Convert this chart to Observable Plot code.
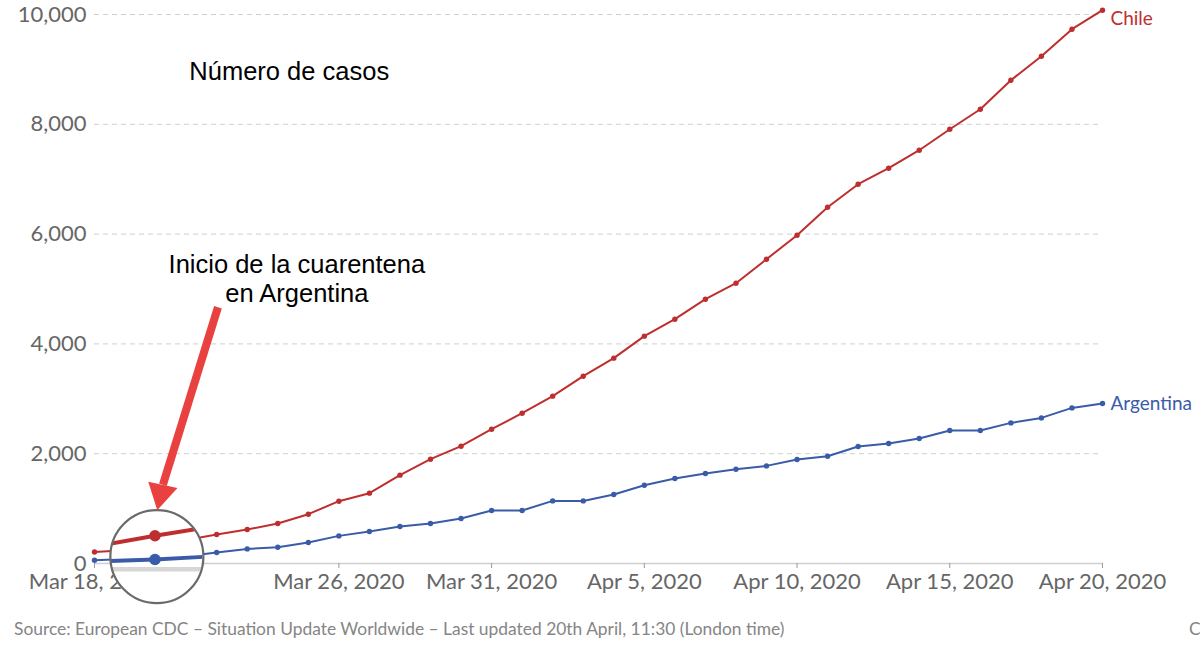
<!DOCTYPE html>
<html><head><meta charset="utf-8">
<script src="https://cdn.jsdelivr.net/npm/d3@7"></script>
<script src="https://cdn.jsdelivr.net/npm/@observablehq/plot@0.6"></script>
<style>
body{margin:0;background:#fff;overflow:hidden;}
#wrap{position:relative;width:1200px;height:654px;overflow:hidden;background:#fff;}
#caption{position:absolute;left:14px;top:618px;font:17.4px Lato;color:#858585;white-space:nowrap;}
#cc{position:absolute;left:1189px;top:618px;font:17.4px Lato;color:#858585;white-space:nowrap;}
</style></head><body>
<div id="wrap"><div id="chart"></div>
<div id="caption">Source: European CDC – Situation Update Worldwide – Last updated 20th April, 11:30 (London time)</div>
<div id="cc">CC BY</div></div>
<script>
// ---- data ----
const fechaInicio = "2020-03-18", fechaFin = "2020-04-20";
const chile = [210,240,340,430,528,619,728,898,1135,1281,1609,1900,2137,2446,
  2738,3048,3412,3740,4141,4450,4814,5106,5543,5980,6490,6909,7200,7528,7910,8274,8803,9240,9732,10078];
const argentina = [60,80,100,130,200,266,295,383,503,583,674,729,820,965,
  965,1140,1140,1257,1426,1548,1640,1718,1778,1894,1954,2131,2186,2277,2423,2423,2561,2652,2834,2914];
const paises = ["Chile","Argentina"];
const colores = ["#bf2e2e","#3a5ba8"];
const ticksY = [0,2000,4000,6000,8000,10000];
const ticksX = ["2020-03-18","2020-03-26","2020-03-31","2020-04-05","2020-04-10","2020-04-15","2020-04-20"];
// annotations (data space)
const titulo = [{fecha:"2020-03-24T09:00Z", valor:8950, texto:"Número de casos"}];
const nota = [{fecha:"2020-03-24T15:00Z", valor:5205, texto:"Inicio de la cuarentena\nen Argentina"}];
const flecha = [{f1:"2020-03-22T01:00Z", v1:4668, f2:"2020-03-20T05:45Z", v2:1435}];
const punta = [{fecha:"2020-03-20T04:15Z", valor:1279}];
const lupa = [{fecha:"2020-03-20T01:00Z", valor:124}];
const lupaRadio = 46.5, lupaZoom = 1.8;

// ---- build ----
const fechas = d3.utcDay.range(new Date(fechaInicio), d3.utcDay.offset(new Date(fechaFin), 1));
const series = [chile, argentina];
const datos = paises.map((p, i) => fechas.map((d, j) => ({pais: p, fecha: d, valor: series[i][j]})));
const parse = s => new Date(s);
const conv = arr => arr.map(o => Object.fromEntries(Object.entries(o).map(([k,v]) => [k, (k[0]==="f") ? parse(v) : v])));

const serieMarks = (r = 2.7, sw = 2) => datos.flatMap((d, i) => [
  Plot.line(d, {x:"fecha", y:"valor", stroke:colores[i], strokeWidth:sw}),
  Plot.dot(d, {x:"fecha", y:"valor", fill:colores[i], r})
]);

const base = {
  width:1200, height:610, marginTop:14, marginBottom:47, marginLeft:94, marginRight:98,
  style:{fontFamily:"Lato", fontSize:"22px", background:"transparent", overflow:"visible"},
  x:{type:"utc", domain:[new Date(fechaInicio), new Date(fechaFin)]},
  y:{domain:[0,10000]}
};
const fontAnot = "Liberation Sans, Arial, Helvetica";
const chart = Plot.plot({
  ...base,
  marks:[
    Plot.gridY(ticksY.slice(1), {stroke:"#cfcfcf", strokeOpacity:1, strokeDasharray:"5,4"}),
    Plot.ruleY([0], {stroke:"#cfcfcf", strokeWidth:1.5}),
    Plot.axisY(ticksY, {tickSize:0, tickPadding:8, tickFormat:d3.format(","), label:null, fill:"#666", fontSize:22}),
    Plot.axisX(ticksX.map(parse), {tickSize:5, tickPadding:5, tickFormat:d3.utcFormat("%b %-d, %Y"), label:null, fill:"#666", stroke:"#999", fontSize:22}),
    ...serieMarks(),
    ...datos.map((d, i) => Plot.text([d[d.length-1]], {x:"fecha", y:"valor", text:"pais", fill:colores[i], dx:8, dy: i===0 ? 9 : 0, textAnchor:"start", fontSize:19, fontFamily:"Lato"})),
    Plot.text(conv(titulo), {x:"fecha", y:"valor", text:"texto", fill:"#000", fontSize:25.5, fontFamily:fontAnot}),
    Plot.text(conv(nota), {x:"fecha", y:"valor", text:"texto", fill:"#000", fontSize:25.5, lineHeight:1.14, fontFamily:fontAnot}),
    Plot.dot(conv(lupa), {x:"fecha", y:"valor", r:lupaRadio, fill:"white", stroke:"none"}),
    Plot.dot(conv(lupa), {x:"fecha", y:"valor", r:lupaRadio, fill:"none", stroke:"#6a6a6a", strokeWidth:2.2}),
    Plot.link(conv(flecha), {x1:"f1", y1:"v1", x2:"f2", y2:"v2", stroke:"#e8413f", strokeWidth:8}),
    Plot.dot(conv(punta), {x:"fecha", y:"valor", symbol:"triangle", r:11.1, fill:"#e8413f", stroke:"none", rotate:192.4})
  ]
});
document.getElementById("chart").appendChild(chart);

// magnifier content: same scales, drawn in a second plot, then moved in, scaled and clipped
const lupaPlot = Plot.plot({
  ...base, x:{...base.x, axis:null}, y:{...base.y, axis:null},
  marks:[
    Plot.ruleY([0], {stroke:"#d6d6d6", strokeWidth:2.5}),
    ...serieMarks(3.2, 2.2)
  ]
});
const sx = chart.scale("x"), sy = chart.scale("y");
const L = conv(lupa)[0];
const cx = sx.apply(L.fecha), cy = sy.apply(L.valor);
const ns = "http://www.w3.org/2000/svg";
const defs = document.createElementNS(ns, "defs");
const cp = document.createElementNS(ns, "clipPath"); cp.setAttribute("id", "lupa-clip");
const cc = document.createElementNS(ns, "circle");
cc.setAttribute("cx", cx); cc.setAttribute("cy", cy); cc.setAttribute("r", lupaRadio - 0.5);
cp.appendChild(cc); defs.appendChild(cp); chart.insertBefore(defs, chart.firstChild);
const wrapG = document.createElementNS(ns, "g"); wrapG.setAttribute("clip-path", "url(#lupa-clip)");
const inner = document.createElementNS(ns, "g");
inner.setAttribute("transform", `translate(${cx},${cy}) scale(${lupaZoom}) translate(${-cx},${-cy})`);
wrapG.appendChild(inner);
[...lupaPlot.children].filter(n => n.tagName.toLowerCase() === "g").forEach(g => inner.appendChild(g));
const ring = chart.querySelector('g[stroke="#6a6a6a"]');
if (ring) ring.parentNode.insertBefore(wrapG, ring); else chart.appendChild(wrapG);
</script>
</body></html>
